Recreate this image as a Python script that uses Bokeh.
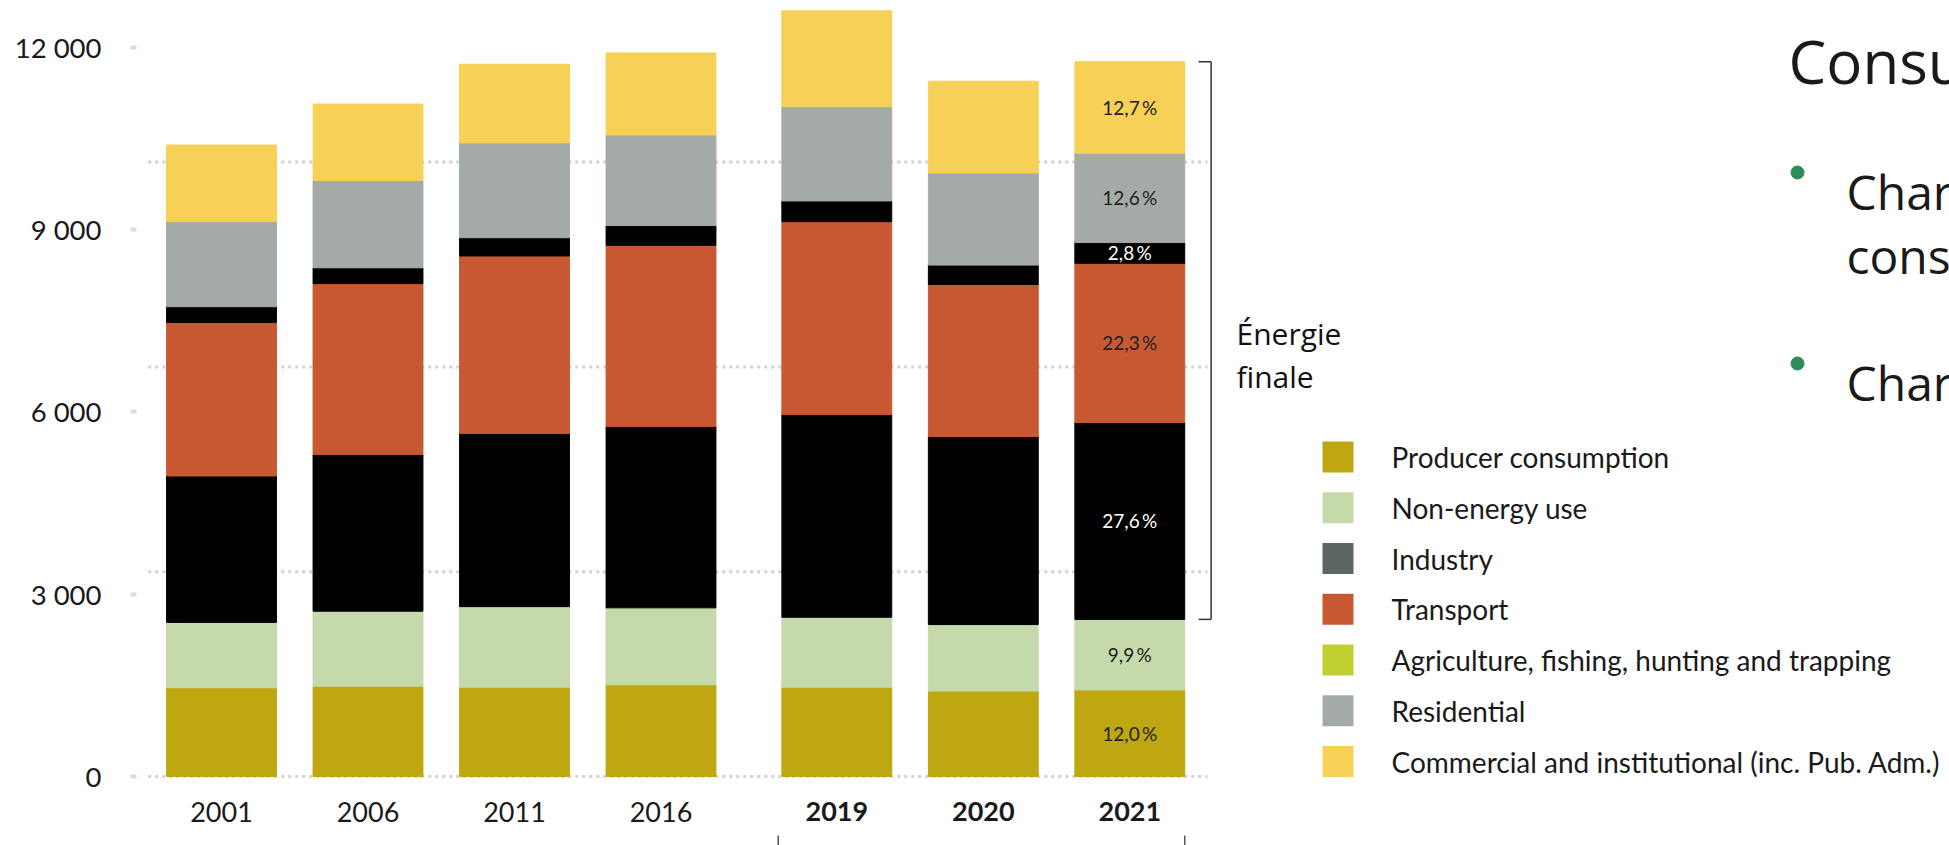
from bokeh.plotting import figure
from bokeh.models import Range1d, FixedTicker, ColumnDataSource
from bokeh.core.properties import value
from bokeh.embed import file_html
from bokeh.resources import INLINE

# ---------------- data ----------------
years = ["2001", "2006", "2011", "2016", "2019", "2020", "2021"]
producer = [1460, 1485, 1470, 1510, 1470, 1405, 1425]
non_energy = [1075, 1235, 1325, 1265, 1150, 1095, 1160]
industry = [2410, 2580, 2850, 2985, 3335, 3095, 3240]
transport = [2525, 2810, 2920, 2980, 3175, 2500, 2620]
agriculture = [260, 260, 300, 325, 340, 320, 340]
residential = [1400, 1435, 1560, 1490, 1550, 1515, 1470]
commercial = [1260, 1260, 1295, 1350, 1580, 1510, 1505]

series_names = [
    "Producer consumption",
    "Non-energy use",
    "Industry",
    "Transport",
    "Agriculture, fishing, hunting and trapping",
    "Residential",
    "Commercial and institutional (inc. Pub. Adm.)",
]
pct_2021 = ["12,0\u2009%", "9,9\u2009%", "27,6\u2009%", "22,3\u2009%", "2,8\u2009%", "12,6\u2009%", "12,7\u2009%"]
y_ticks = [0, 3000, 6000, 9000, 12000]
grid_values = [0, 3370, 6740, 10110]
bold_years = ["2019", "2020", "2021"]

# ---------------- styles ----------------
bar_colors = ["#BFA711", "#C6D9AA", "#000000", "#C85832", "#000000", "#A4AAA5", "#F6D155"]
legend_colors = ["#BFA711", "#C6D9AA", "#5E6661", "#C85832", "#BFD030", "#A4AAA5", "#F6D155"]
pct_text_colors = ["#222222", "#222222", "#FFFFFF", "#222222", "#FFFFFF", "#222222", "#222222"]

W, H = 1949, 845
PX0, UNIT = 221.0, 146.5      # pixel of first bar centre, pixels per category step
Y0, YS = 776.0, 0.060775      # pixel of value 0, pixels per unit
FRAME_LEFT = 136


def dx(px):
    return (px - PX0) / UNIT


def dy(py):
    return (Y0 - py) / YS


# category positions (extra gap before 2019)
x_pos = [i + (0.2 if int(y) >= 2019 else 0.0) for i, y in enumerate(years)]
bar_w = 0.75

p = figure(width=W, height=H, output_backend="svg", toolbar_location=None, title=None,
           x_range=Range1d(dx(FRAME_LEFT), dx(W)), y_range=Range1d(dy(H), dy(0)),
           x_axis_location=None, min_border_left=FRAME_LEFT, min_border_right=0,
           min_border_top=0, min_border_bottom=0)
p.outline_line_color = None
p.grid.visible = False
p.background_fill_color = "white"
p.border_fill_color = "white"

# y axis
ax = p.yaxis[0]
ax.ticker = FixedTicker(ticks=y_ticks)
ax.major_label_overrides = {t: f"{t:,}".replace(",", " ") for t in y_ticks}
ax.axis_line_color = None
ax.minor_tick_line_color = None
ax.major_tick_in = 0
ax.major_tick_out = 6
ax.major_tick_line_color = "#DDDDDD"
ax.major_tick_line_width = 4
ax.major_label_standoff = 29
ax.major_label_text_font = "Lato"
ax.major_label_text_font_size = "27.5px"
ax.major_label_text_color = "#1A1A1A"

# dotted gridlines
gx0 = x_pos[0] - 0.5
gx1 = x_pos[-1] + 0.53
p.segment(x0=[gx0] * len(grid_values), x1=[gx1] * len(grid_values), y0=grid_values, y1=grid_values,
          line_color="#D2D2D2", line_width=3, line_dash="3 4")

# stacked bars
keys = ["producer", "non_energy", "industry", "transport", "agriculture", "residential", "commercial"]
vals = [producer, non_energy, industry, transport, agriculture, residential, commercial]
src = ColumnDataSource(dict(x=x_pos, **{k: v for k, v in zip(keys, vals)}))
p.vbar_stack(keys, x="x", width=bar_w, color=bar_colors, source=src)

# percentage labels in the 2021 bar
last = len(years) - 1
cum = 0
centres = []
for v in vals:
    centres.append(cum + v[last] / 2)
    cum += v[last]
p.text(x=[x_pos[last]] * len(centres), y=centres, text=pct_2021, text_align="center",
       text_baseline="middle", text_font=value("Lato"), text_font_size="19px",
       text_color=pct_text_colors)

# year labels
label_y = dy(811)
for xp, yr in zip(x_pos, years):
    p.text(x=[xp], y=[label_y], text=[yr], text_align="center", text_baseline="middle",
           text_font=value("Lato"), text_font_size="27px", text_color="#1A1A1A",
           text_font_style="bold" if yr in bold_years else "normal")

# bracket for "Énergie finale" (from industry bottom to top of 2021 bar)
b_bottom = producer[last] + non_energy[last]
b_top = sum(v[last] for v in vals)
bx = x_pos[last] + 0.555
bxi = x_pos[last] + 0.47
p.segment(x0=[bx, bxi, bxi], x1=[bx, bx, bx], y0=[b_bottom, b_top, b_bottom], y1=[b_top, b_top, b_bottom],
          line_color="#333333", line_width=1.5)
p.text(x=[dx(1236), dx(1236)], y=[dy(333), dy(376)], text=["Énergie", "finale"],
       text_font=value("Open Sans"), text_font_size="30px", text_color="#111111",
       text_baseline="alphabetic")

# bottom bracket ticks under 2019-2021
bl = x_pos[4] - 0.4
br = x_pos[last] + bar_w / 2
p.segment(x0=[bl, br], x1=[bl, br], y0=[dy(835), dy(835)], y1=[dy(H), dy(H)],
          line_color="#555555", line_width=1.5)

# legend
row0, row_step = 456.5, 50.75
ly = [dy(row0 + i * row_step) for i in range(len(series_names))]
p.rect(x=[dx(1337.5)] * len(ly), y=ly, width=31, height=31, width_units="screen",
       height_units="screen", fill_color=legend_colors, line_color=None)
p.text(x=[dx(1391)] * len(ly), y=ly, text=series_names, text_baseline="middle",
       text_font=value("Lato"), text_font_size="28px", text_color="#1A1A1A")

# slide text (cut by the right edge, as in the reference)
p.text(x=[dx(1788)], y=[dy(60)], text=["Consu"], text_font=value("Open Sans"),
       text_font_size="60px", text_color="#1A1A1A", text_baseline="alphabetic")
p.scatter(x=[dx(1797), dx(1797)], y=[dy(172), dy(363)], size=13, color="#2E8B57")
p.text(x=[dx(1846)] * 3, y=[dy(191), dy(255), dy(382)], text=["Char", "cons", "Char"],
       text_font=value("Open Sans"), text_font_size="48px", text_color="#1A1A1A",
       text_baseline="alphabetic")

open("out.html", "w").write(file_html(p, INLINE))
